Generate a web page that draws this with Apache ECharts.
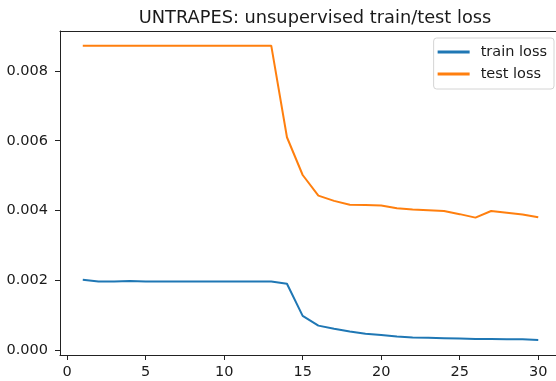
<!DOCTYPE html>
<html>
<head>
<meta charset="utf-8">
<script src="https://cdn.jsdelivr.net/npm/echarts@6/dist/echarts.min.js"></script>
<style>
  html, body { margin: 0; padding: 0; background: #fff; }
  #chart { width: 556px; height: 381px; }
</style>
</head>
<body>
<div id="chart"></div>
<script>
// epochs
var epochs = [1, 2, 3, 4, 5, 6, 7, 8, 9, 10, 11, 12, 13, 14, 15,
  16, 17, 18, 19, 20, 21, 22, 23, 24, 25, 26, 27, 28, 29, 30];
var trainLoss = [0.00202, 0.00197, 0.00197, 0.00199, 0.00197, 0.00197, 0.00197, 0.00197, 0.00197, 0.00197,
  0.00197, 0.00197, 0.00197, 0.00191, 0.00099, 0.00071, 0.00062, 0.00054, 0.00048, 0.00044,
  0.00040, 0.00037, 0.00036, 0.00035, 0.00034, 0.00033, 0.00033, 0.00032, 0.00032, 0.00030];
var testLoss = [0.00872, 0.00872, 0.00872, 0.00872, 0.00872, 0.00872, 0.00872, 0.00872, 0.00872, 0.00872,
  0.00872, 0.00872, 0.00872, 0.00610, 0.00502, 0.00443, 0.00428, 0.00417, 0.00416, 0.00415,
  0.00407, 0.00403, 0.00401, 0.00399, 0.00390, 0.00380, 0.00399, 0.00394, 0.00389, 0.00381];
var xTicks = [0, 5, 10, 15, 20, 25, 30];
var yTicks = [0, 0.002, 0.004, 0.006, 0.008];

var font = 'DejaVu Sans';
var ink = '#1a1a1a';
var spine = '#222';

function pairs(ys) {
  return epochs.map(function (x, i) { return [x, ys[i]]; });
}

var chart = echarts.init(document.getElementById('chart'), null, { renderer: 'canvas' });

chart.setOption({
  animation: false,
  backgroundColor: '#fff',
  title: {
    text: 'UNTRAPES: unsupervised train/test loss',
    left: 310,
    top: 4,
    textAlign: 'center',
    textStyle: { fontFamily: font, fontSize: 17.8, fontWeight: 'normal', color: ink }
  },
  legend: {
    orient: 'vertical',
    right: 2,
    top: 38,
    padding: [6, 7, 7, 4],
    itemGap: 6,
    itemWidth: 32,
    itemHeight: 3,
    icon: 'rect',
    backgroundColor: '#fff',
    borderColor: '#d4d4d4',
    borderWidth: 1,
    borderRadius: 3,
    textStyle: { fontFamily: font, fontSize: 14.5, color: ink, lineHeight: 16, padding: [0, 0, 0, 6] },
    data: ['train loss', 'test loss']
  },
  // right edge of the axes is cut off in the original, so the plot runs to the page edge
  grid: { left: 60, top: 31, right: 0, bottom: 26 },
  xAxis: [
    {
      type: 'value',
      min: -0.45,
      max: 31.13,
      axisLine: { show: true, onZero: false, lineStyle: { color: spine, width: 1 } },
      axisTick: { show: true, length: 5, customValues: xTicks, lineStyle: { color: spine } },
      axisLabel: {
        customValues: xTicks,
        margin: 10,
        fontFamily: font,
        fontSize: 14.5,
        color: ink
      },
      splitLine: { show: false }
    },
    {
      // top spine only
      type: 'value',
      position: 'top',
      min: -0.45,
      max: 31.13,
      axisLine: { show: true, onZero: false, lineStyle: { color: spine, width: 1 } },
      axisTick: { show: false },
      axisLabel: { show: false },
      splitLine: { show: false }
    }
  ],
  yAxis: {
    type: 'value',
    min: -0.00013,
    max: 0.00914,
    axisLine: { show: true, onZero: false, lineStyle: { color: spine, width: 1 } },
    axisTick: { show: true, length: 5, customValues: yTicks, lineStyle: { color: spine } },
    axisLabel: {
      customValues: yTicks,
      margin: 12,
      fontFamily: font,
      fontSize: 14.5,
      color: ink,
      formatter: function (v) { return v.toFixed(3); }
    },
    splitLine: { show: false }
  },
  series: [
    {
      name: 'train loss',
      type: 'line',
      data: pairs(trainLoss),
      symbol: 'none',
      color: '#1f77b4',
      lineStyle: { width: 2, color: '#1f77b4' }
    },
    {
      name: 'test loss',
      type: 'line',
      data: pairs(testLoss),
      symbol: 'none',
      color: '#ff7f0e',
      lineStyle: { width: 2, color: '#ff7f0e' }
    }
  ]
});
</script>
</body>
</html>
